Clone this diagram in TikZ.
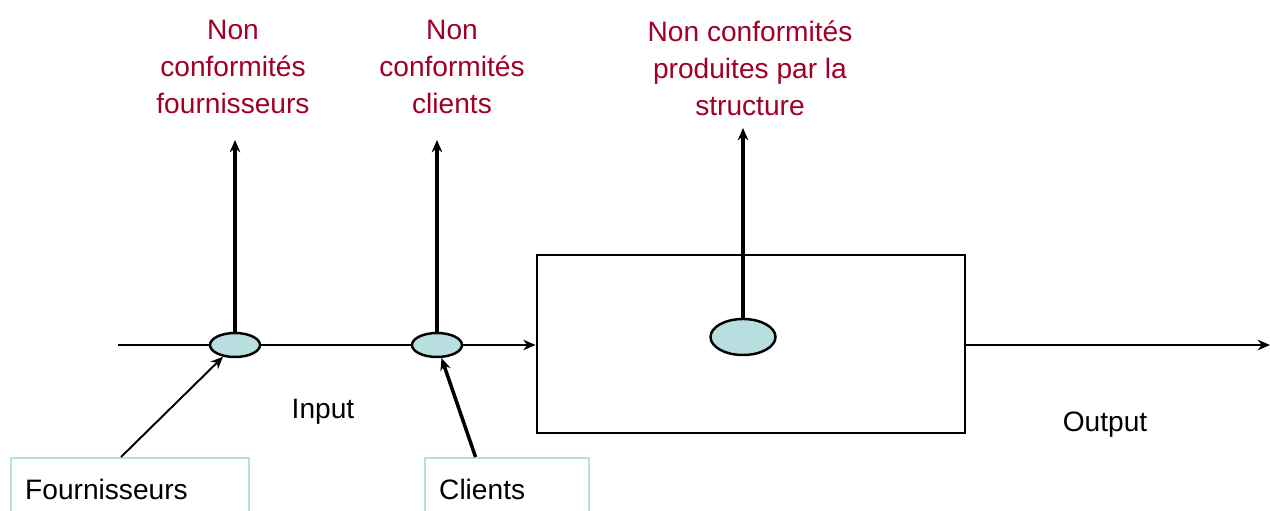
\documentclass[tikz,border=0pt]{standalone}
\usepackage{fontspec}
\setmainfont{Liberation Sans}
\usepackage{tikz}
\usetikzlibrary{arrows.meta,calc,positioning,shapes}
\definecolor{rougenc}{HTML}{A00028}
\definecolor{bleuclair}{HTML}{B8DEE0}

\begin{document}
\begin{tikzpicture}[
		pastille/.style={ellipse, draw, line width=1.4pt, fill=bleuclair, inner sep=0pt},
		boite/.style={rectangle, draw=bleuclair, line width=1.3pt, anchor=north west, align=left, inner xsep=8pt, font=\fontsize{16}{19}\selectfont},
		etiquette/.style={align=center, text=rougenc, font=\fontsize{16}{21}\selectfont},
		>={Stealth[length=7pt, width=6pt]}
		]
		\useasboundingbox (0,0) rectangle (25.4,10.22);
		
		% Les noeuds
		\node[draw, line width=1.6pt, minimum width=8.56cm, minimum height=3.56cm] (S) at (15.02, 3.34) {};
		\node[pastille, minimum width=1.0cm, minimum height=0.48cm] (F) at (4.70, 3.32) {};
		\node[pastille, minimum width=1.0cm, minimum height=0.48cm] (C) at (8.74, 3.32) {};
		\node[pastille, minimum width=1.3cm, minimum height=0.72cm] (P) at (14.86, 3.48) {};
		\coordinate (debut) at (2.36, 3.32);
		\coordinate (fin) at (25.4, 3.32);
		
		% Les textes
		\node[etiquette] (tF) at (4.66, 8.88) {Non\\conformités\\fournisseurs};
		\node[etiquette] (tC) at (9.04, 8.88) {Non\\conformités\\clients};
		\node[etiquette] (tP) at (15.0, 8.86) {Non conformités\\produites par la\\structure};
		\node[font=\fontsize{16}{19}\selectfont] (in) at (6.46, 1.98) {Input};
		\node[font=\fontsize{16}{19}\selectfont] (out) at (22.1, 1.72) {Output};
		\node[boite, text width=4.76cm-16pt, minimum height=1.24cm] (bF) at (0.2, 1.08) {Fournisseurs};
		\node[boite, text width=3.28cm-16pt, minimum height=1.24cm] (bC) at (8.48, 1.08) {Clients};
		
		% Le flux principal
		\draw[line width=1.6pt] (debut) -- (F.west);
		\draw[line width=1.6pt] (F.east) -- (C.west);
		\draw[->, line width=1.6pt] (C.east) -- (C.east -| S.west);
		\draw[->, line width=1.6pt] (fin -| S.east) -- (fin);
		
		% Les non conformites
		\draw[->, line width=2.6pt] (F.north) -- (4.70, 7.42);
		\draw[->, line width=2.6pt] (C.north) -- (8.74, 7.42);
		\draw[->, line width=2.6pt] (P.north) -- (14.86, 7.66);
		
		% Les entrees
		\draw[->, line width=1.1pt] ($(bF.north west)!0.462!(bF.north east)$) -- (F);
		\draw[->, line width=2pt] ($(bC.north west)!0.31!(bC.north east)$) -- (C);
	\end{tikzpicture}
\end{document}
